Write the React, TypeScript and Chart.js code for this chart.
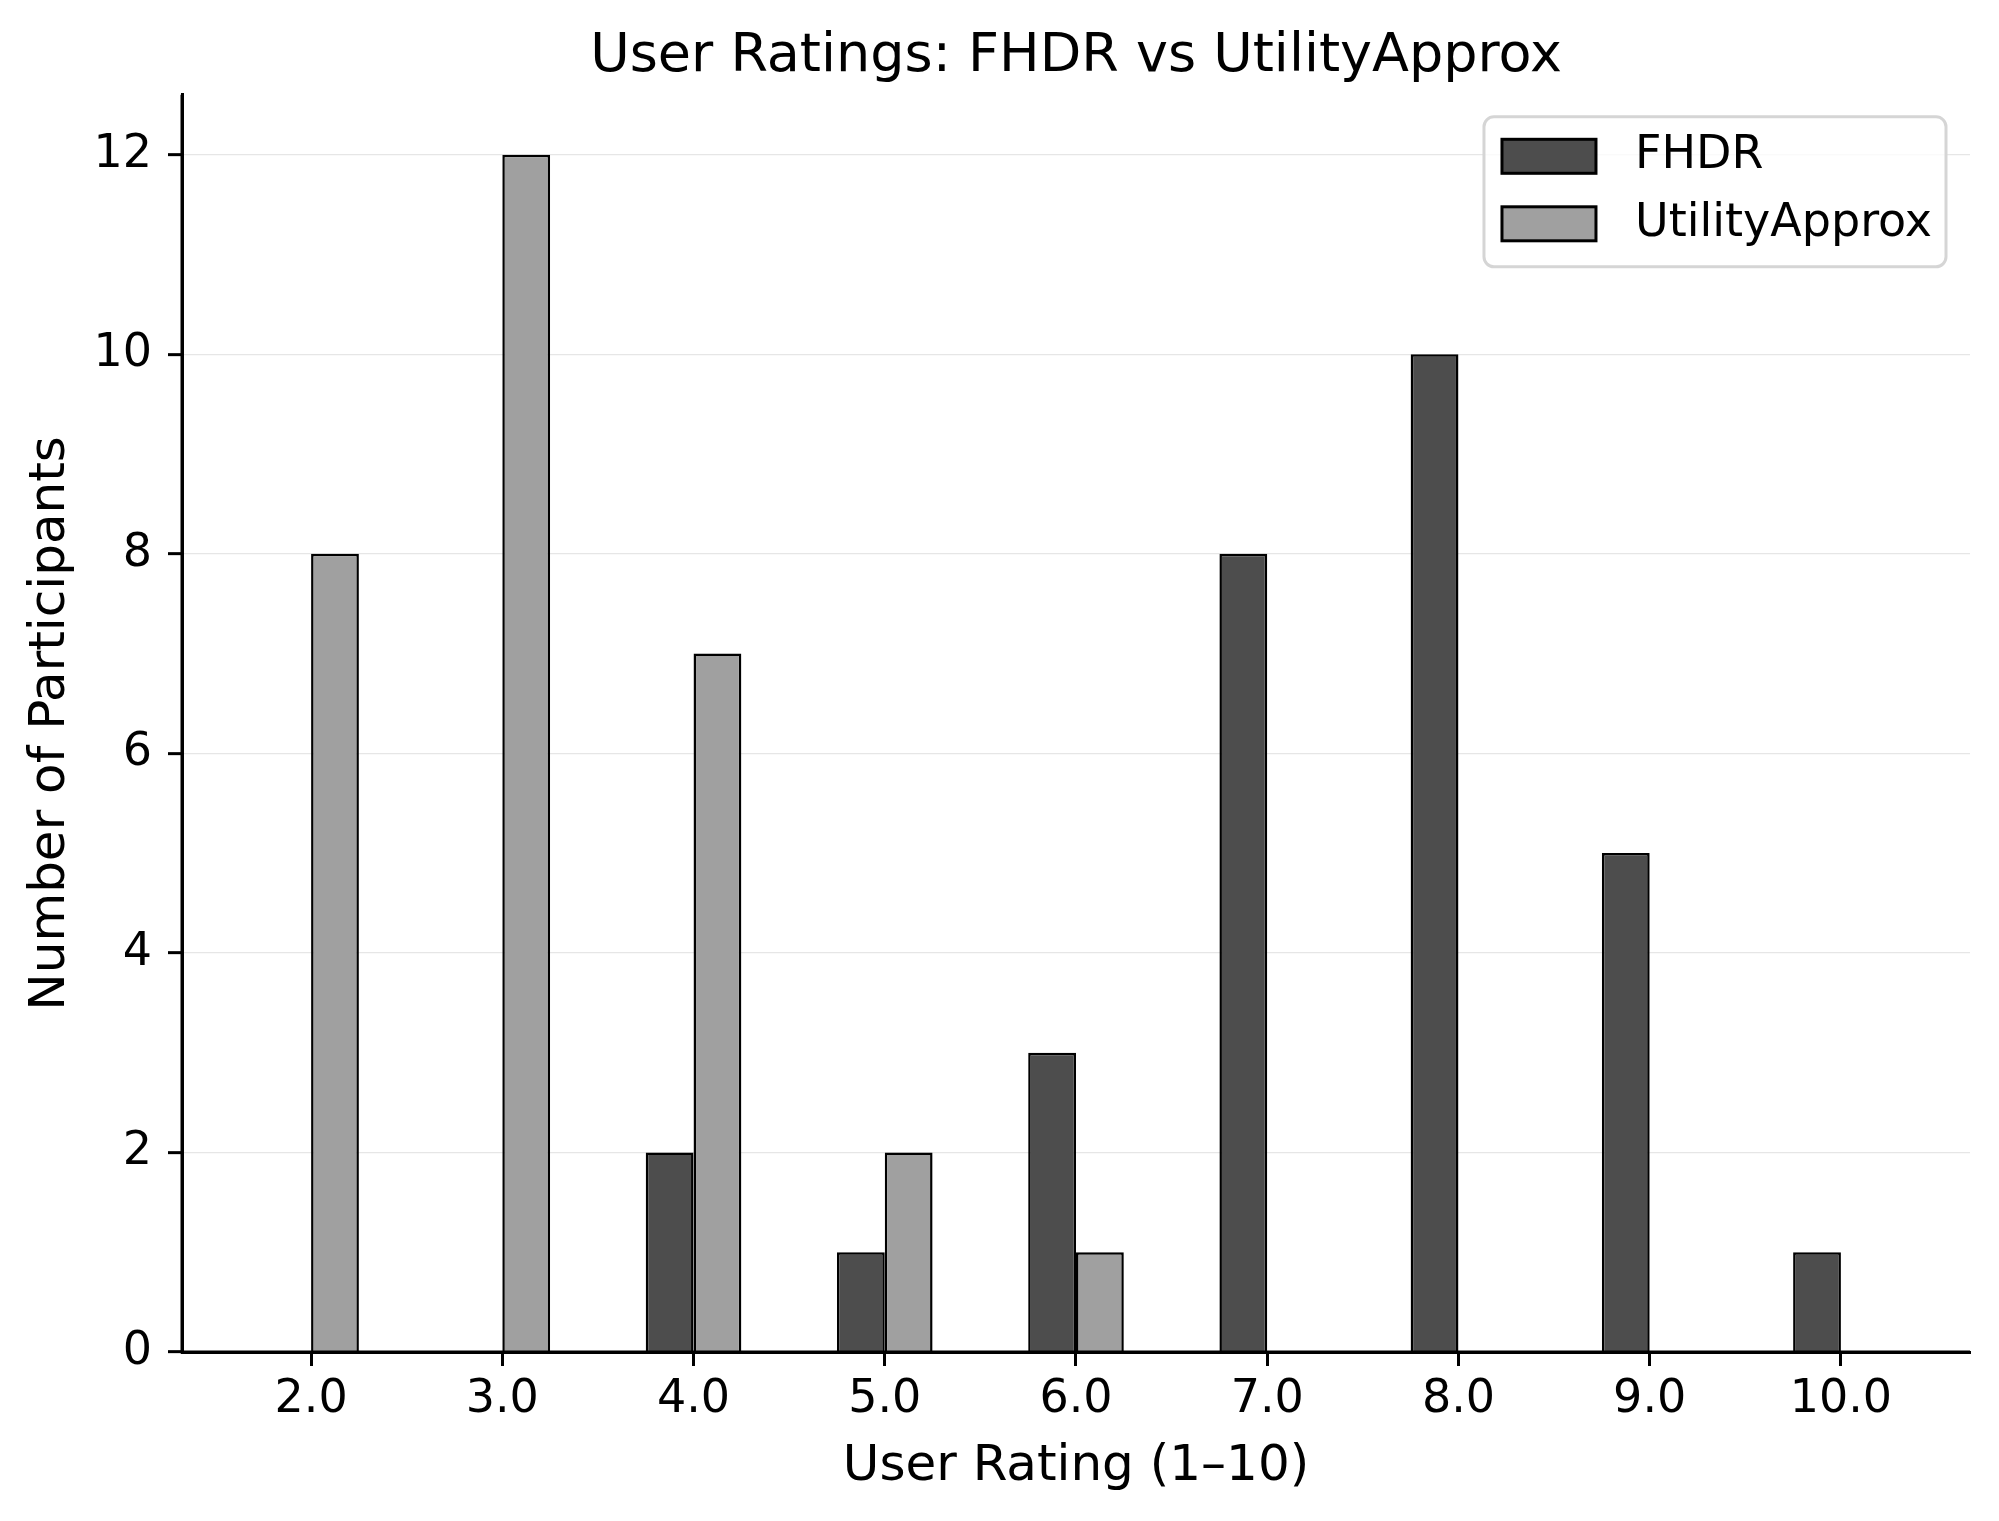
import { useEffect, useRef } from 'react';
import { Chart, registerables } from 'chart.js';

Chart.register(...registerables);

// ---- data ----
const ratings = [2, 3, 4, 5, 6, 7, 8, 9, 10];
const fhdrCounts = [0, 0, 2, 1, 3, 8, 10, 5, 1];
const utilityCounts = [8, 12, 7, 2, 1, 0, 0, 0, 0];
const yTickValues = [0, 2, 4, 6, 8, 10, 12];
const seriesNames = ['FHDR', 'UtilityApprox'];
const seriesColors = ['#4d4d4d', '#a0a0a0'];
const chartTitle = 'User Ratings: FHDR vs UtilityApprox';
const xAxisTitle = 'User Rating (1–10)';
const yAxisTitle = 'Number of Participants';

const FONT = '"DejaVu Sans", "Liberation Sans", sans-serif';

// draw the spines over the bars (as matplotlib does)
const spinesOnTop = {
  id: 'spinesOnTop',
  afterDatasetsDraw(chart: any) {
    const { ctx, chartArea } = chart;
    ctx.save();
    ctx.strokeStyle = '#000';
    ctx.lineWidth = 3;
    ctx.beginPath();
    ctx.moveTo(chartArea.left, chartArea.top);
    ctx.lineTo(chartArea.left, chartArea.bottom);
    ctx.lineTo(chartArea.right, chartArea.bottom);
    ctx.stroke();
    ctx.restore();
  },
};

const boxLegend = {
  id: 'boxLegend',
  afterDatasetsDraw(chart: any) {
    const { ctx, chartArea } = chart;
    const datasets = chart.data.datasets;
    ctx.save();
    ctx.font = `46px ${FONT}`;
    let textW = 0;
    datasets.forEach((d: any) => {
      textW = Math.max(textW, ctx.measureText(d.label).width);
    });
    const padL = 18;
    const padR = 14;
    const swW = 94;
    const swH = 34;
    const gap = 39;
    const rowPitch = 67.5;
    const boxW = padL + swW + gap + textW + padR;
    const boxH = 150;
    const right = chartArea.right - 24;
    const left = right - boxW;
    const top = chartArea.top + 22;

    ctx.beginPath();
    ctx.roundRect(left, top, boxW, boxH, 10);
    ctx.fillStyle = 'rgba(255,255,255,0.8)';
    ctx.fill();
    ctx.lineWidth = 3;
    ctx.strokeStyle = '#d5d5d5';
    ctx.stroke();

    datasets.forEach((d: any, i: number) => {
      const cy = top + 39.5 + i * rowPitch;
      const sx = left + padL;
      ctx.fillStyle = d.backgroundColor;
      ctx.fillRect(sx, cy - swH / 2, swW, swH);
      ctx.lineWidth = 3;
      ctx.strokeStyle = '#000';
      ctx.strokeRect(sx, cy - swH / 2, swW, swH);
      ctx.fillStyle = '#000';
      ctx.textAlign = 'left';
      ctx.textBaseline = 'middle';
      ctx.fillText(d.label, sx + swW + gap, cy);
    });
    ctx.restore();
  },
};

export default function App() {
  const canvasRef = useRef<HTMLCanvasElement | null>(null);

  useEffect(() => {
    const canvas = canvasRef.current;
    if (!canvas) return;

    const barW = 0.25;
    const lo = ratings[0] - barW;
    const hi = ratings[ratings.length - 1] + barW;
    const xPad = (hi - lo) * 0.05;
    const allCounts = [...fhdrCounts, ...utilityCounts];
    const yMax = Math.max(...allCounts) * 1.05;

    const seriesValues = [fhdrCounts, utilityCounts];

    const chart = new Chart(canvas, {
      type: 'bar',
      data: {
        datasets: seriesNames.map((name, si) => ({
          label: name,
          data: ratings.map((r, i) => ({ x: r, y: seriesValues[si][i] })),
          backgroundColor: seriesColors[si],
          borderColor: '#000',
          borderWidth: (c: any) => (c.raw && c.raw.y === 0 ? 0 : 2.5),
          borderSkipped: 'start',
          categoryPercentage: 0.5,
          barPercentage: 1.0,
        })),
      },
      plugins: [spinesOnTop, boxLegend],
      options: {
        responsive: false,
        animation: false,
        devicePixelRatio: 1,
        events: [],
        layout: { padding: { top: 0, left: 0, right: 29, bottom: 0 } },
        plugins: {
          legend: { display: false },
          tooltip: { enabled: false },
          title: {
            display: true,
            fullSize: false,
            text: chartTitle,
            color: '#000',
            font: { family: FONT, size: 54, weight: 'normal' },
            padding: { top: 25, bottom: 5 },
          },
        },
        scales: {
          x: {
            type: 'linear',
            min: lo - xPad,
            max: hi + xPad,
            offset: false,
            afterBuildTicks: (scale: any) => {
              scale.ticks = ratings.map((v) => ({ value: v }));
            },
            afterFit: (scale: any) => {
              scale.height = 169;
            },
            ticks: {
              color: '#000',
              font: { family: FONT, size: 46 },
              padding: 6,
              maxRotation: 0,
              autoSkip: false,
              callback: (v: any) => Number(v).toFixed(1),
            },
            grid: {
              offset: false,
              drawOnChartArea: false,
              drawTicks: true,
              tickLength: 14,
              tickWidth: 3,
              tickColor: '#000',
            },
            border: { display: true, color: '#000', width: 3 },
            title: {
              display: true,
              text: xAxisTitle,
              color: '#000',
              font: { family: FONT, size: 50 },
              padding: { top: 0, bottom: 24 },
            },
          },
          y: {
            type: 'linear',
            min: 0,
            max: yMax,
            afterBuildTicks: (scale: any) => {
              scale.ticks = yTickValues.map((v) => ({ value: v }));
            },
            afterFit: (scale: any) => {
              scale.width = 182;
            },
            ticks: {
              color: '#000',
              font: { family: FONT, size: 46 },
              padding: 16,
              callback: (v: any) => String(v),
            },
            grid: {
              color: '#e6e6e6',
              lineWidth: 1.3,
              drawTicks: true,
              tickLength: 14,
              tickWidth: 3,
              tickColor: '#000',
            },
            border: { display: true, color: '#000', width: 3 },
            title: {
              display: true,
              text: yAxisTitle,
              color: '#000',
              font: { family: FONT, size: 50 },
              padding: { top: 21, bottom: 0 },
            },
          },
        },
      },
    } as any);

    return () => {
      chart.destroy();
    };
  }, []);

  return (
    <div style={{ position: 'absolute', left: 0, top: 0, width: 1999, height: 1521, background: '#fff' }}>
      <canvas ref={canvasRef} width={1999} height={1521} style={{ display: 'block', width: 1999, height: 1521 }} />
    </div>
  );
}
